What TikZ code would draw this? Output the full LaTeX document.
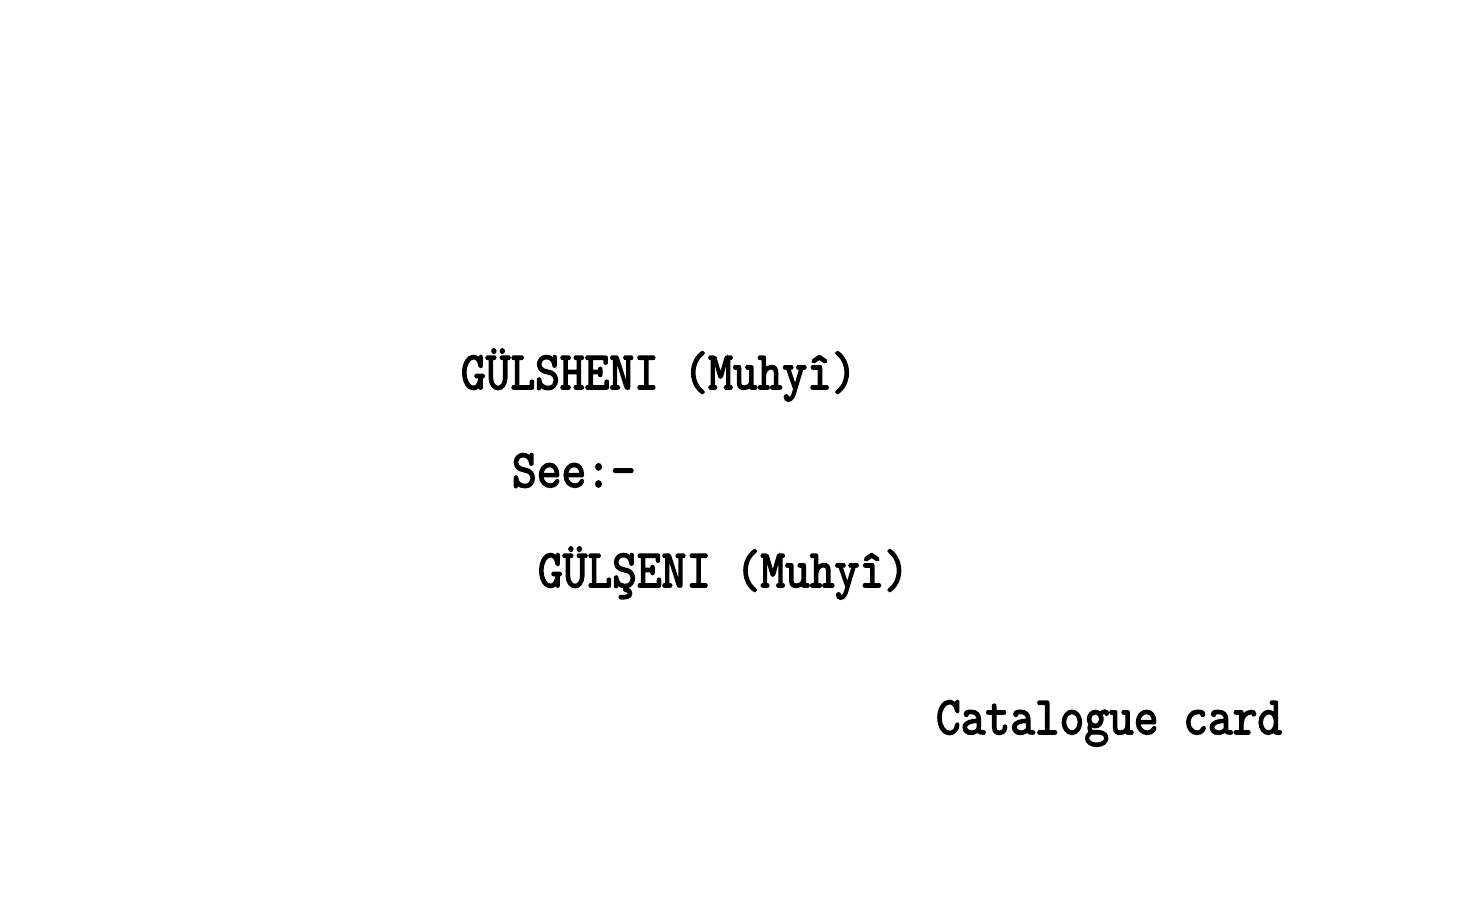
\documentclass[tikz,border=0pt]{standalone}
\usepackage{fontspec}
\newfontfamily\typewr[FakeBold=3]{Latin Modern Mono}
\newcommand{\tall}[1]{\scalebox{1}[1.12]{#1}}
\begin{document}
\begin{tikzpicture}[x=1pt,y=-1pt,
  typed/.style={anchor=base west,inner sep=0pt,outer sep=0pt,
    font=\typewr\fontsize{48}{48}\selectfont,text=black}]
\useasboundingbox[fill=white] (0,0) rectangle (1458,907);
\node[typed] (head) at (461,389) {\tall{GÜLSHENI (Muhyî)}};
\node[typed] (see) at (512,487) {\tall{See:-}};
\node[typed] (ref) at (538,587) {\tall{GÜLŞENI (Muhyî)}};
\node[typed] (note) at (936,734) {\tall{Catalogue card}};
\end{tikzpicture}
\end{document}
